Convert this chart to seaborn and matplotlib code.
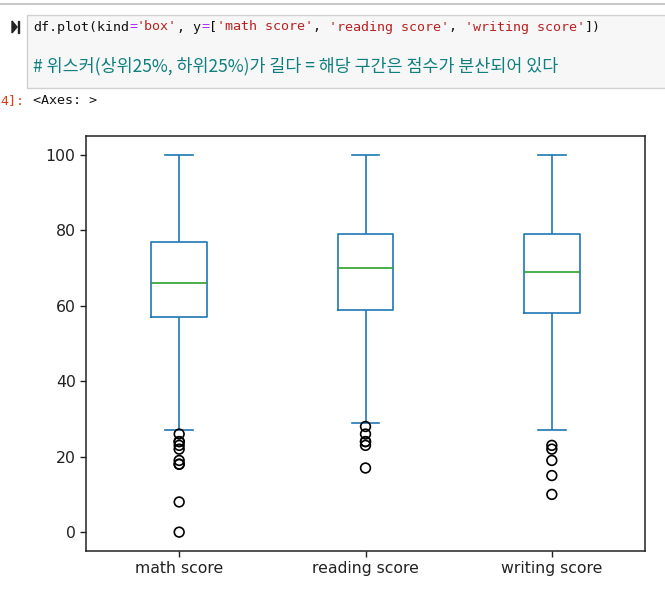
import pandas as pd
import matplotlib.pyplot as plt
import seaborn as sns
from matplotlib.patches import Rectangle, Polygon

# box summary: low whisker, Q1, median, Q3, high whisker
subjects = ["math score", "reading score", "writing score"]
math_box = [27, 57, 66, 77, 100]
reading_box = [29, 59, 70, 79, 100]
writing_box = [27, 58, 69, 79, 100]

# outliers below the low whiskers
math_out = [0, 8, 18, 18, 19, 22, 23, 24, 24, 26]
reading_out = [17, 23, 24, 24, 26, 28]
writing_out = [10, 15, 19, 22, 23]

y_ticks = [0, 20, 40, 60, 80, 100]

W, H = 665, 591


def fx(x):
    return x / W


def fy(y):
    return 1 - y / H


box_df = pd.concat([
    pd.DataFrame({"subject": s, "value": v})
    for s, v in zip(subjects, [math_box, reading_box, writing_box])
])
out_df = pd.concat([
    pd.DataFrame({"subject": s, "value": v})
    for s, v in zip(subjects, [math_out, reading_out, writing_out])
])

fig = plt.figure(figsize=(W / 100, H / 100), dpi=100)

# notebook cell decoration
fig.add_artist(plt.Line2D([0, 1], [fy(4), fy(4)], transform=fig.transFigure,
                          color="#c8c8c8", lw=1.5))
fig.add_artist(Rectangle((fx(27), fy(88)), fx(640), 73 / H, transform=fig.transFigure,
                         facecolor="#f7f7f7", edgecolor="#d0d0d0", lw=1))
fig.add_artist(Polygon([[fx(12), fy(21)], [fx(12), fy(33)], [fx(17), fy(27)]],
                       closed=True, transform=fig.transFigure, color="#222222"))
fig.add_artist(Rectangle((fx(17.5), fy(33)), 1.6 / W, 12 / H, transform=fig.transFigure,
                         color="#222222"))

mono = ["DejaVu Sans Mono", "Noto Sans CJK KR"]
code_fs = 9.6
cw = 0.6 * code_fs * 100 / 72  # advance of one DejaVu Sans Mono glyph, px
x0 = 33
segments = [
    ("df.plot(kind", "#111111"), ("=", "#aa22ff"), ("'box'", "#ba2121"),
    (", y", "#111111"), ("=", "#aa22ff"), ("[", "#111111"),
    ("'math score'", "#ba2121"), (", ", "#111111"), ("'reading score'", "#ba2121"),
    (", ", "#111111"), ("'writing score'", "#ba2121"), ("])", "#111111"),
]
pos = 0
for txt, col in segments:
    fig.text(fx(x0 + pos * cw), fy(27), txt, color=col, family=mono,
             fontsize=code_fs, va="center", ha="left")
    pos += len(txt)

fig.text(fx(x0), fy(66), "# 위스커(상위25%, 하위25%)가 길다 = 해당 구간은 점수가 분산되어 있다",
         color="#0f7f7f", family=["Noto Sans CJK KR", "DejaVu Sans"], fontsize=12.5,
         style="italic", va="center", ha="left")
fig.text(fx(0), fy(101), "4]:", color="#d84315", family=mono, fontsize=code_fs,
         va="center", ha="left")
fig.text(fx(x0), fy(101), "<Axes: >", color="#111111", family=mono, fontsize=code_fs,
         va="center", ha="left")

# the chart itself
ax = fig.add_axes([fx(86), fy(551), 559 / W, 415 / H])
blue = "#1f77b4"
sns.boxplot(data=box_df, x="subject", y="value", order=subjects, ax=ax,
            width=0.3, fill=False, color=blue, linecolor=blue, linewidth=1.2,
            showfliers=False, capwidths=0.15,
            medianprops={"color": "#2ca02c", "linewidth": 1.2},
            whiskerprops={"color": blue}, capprops={"color": blue})
sns.stripplot(data=out_df, x="subject", y="value", order=subjects, ax=ax,
              jitter=False, size=7, color="black", linewidth=1.2,
              edgecolor="black", zorder=3)
for coll in ax.collections:
    coll.set_facecolor("none")
    coll.set_edgecolor("black")

ax.set_xlim(-0.5, 2.5)
ax.set_ylim(-5, 105)
ax.set_yticks(y_ticks)
ax.set_xlabel("")
ax.set_ylabel("")
for s in ax.spines.values():
    s.set_visible(True)
    s.set_color("#222222")
    s.set_linewidth(1.1)
ax.tick_params(labelsize=11.3, length=4, width=1, colors="#222222")

fig.savefig("out.png", dpi=100)
